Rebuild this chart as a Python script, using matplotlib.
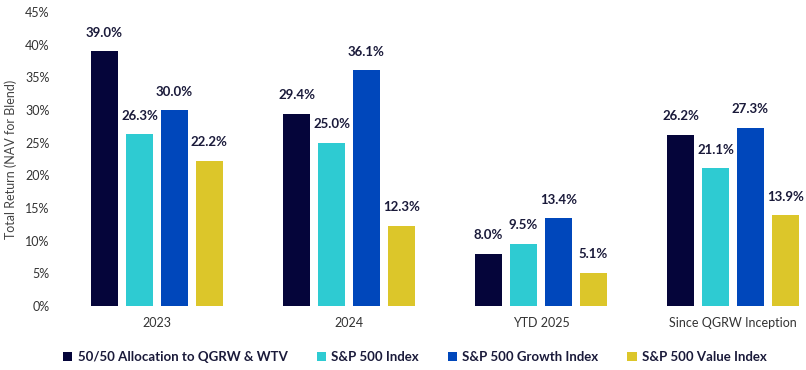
import matplotlib.pyplot as plt
import numpy as np

# data
periods = ["2023", "2024", "YTD 2025", "Since QGRW Inception"]
series = ["50/50 Allocation to QGRW & WTV", "S&P 500 Index",
          "S&P 500 Growth Index", "S&P 500 Value Index"]
blend = [39.0, 29.4, 8.0, 26.2]
sp500 = [26.3, 25.0, 9.5, 21.1]
growth = [30.0, 36.1, 13.4, 27.3]
value = [22.2, 12.3, 5.1, 13.9]
colors = ["#05053a", "#2ecbd2", "#0047bb", "#dcc62a"]

plt.rcParams['font.family'] = ['Lato', 'DejaVu Sans']

fig = plt.figure(figsize=(8.06, 3.70), dpi=100)
ax = fig.add_axes([55/806, 64/370, 751/806, 294/370])

x = np.arange(len(periods))
width = 0.14
step = 0.182
for i, (name, vals) in enumerate(zip(series, [blend, sp500, growth, value])):
    pos = x + (i - 1.5) * step
    bars = ax.bar(pos, vals, width, color=colors[i], label=name)
    for b, v in zip(bars, vals):
        ax.annotate("{:.1f}%".format(v), (b.get_x() + b.get_width() / 2, v),
                    xytext=(0, 9), textcoords="offset points", ha="center",
                    va="bottom", fontsize=9.5, fontweight="bold", color="#1a1a3a")

ax.set_xlim((55 - 157) / 192, (806 - 157) / 192)
ax.set_ylim(0, 45)
ax.set_yticks(range(0, 50, 5))
ax.set_yticklabels(["{}%".format(t) for t in range(0, 50, 5)])
ax.set_xticks(x)
ax.set_xticklabels(periods)
ax.tick_params(length=0, labelsize=9, colors="#333333", pad=8)
ax.tick_params(axis="y", pad=4)
for s in ax.spines.values():
    s.set_visible(False)
ax.set_ylabel("Total Return (NAV for Blend)", fontsize=9, color="#444444", labelpad=6)

fig.legend(loc="center", bbox_to_anchor=(415/806, 13/370), ncol=4, frameon=False,
           prop={"size": 9.5, "weight": "bold"}, handlelength=0.7, handleheight=0.7,
           handletextpad=0.4, columnspacing=2.2, labelcolor="#1a1a3a")

fig.savefig("out.png", dpi=100)
